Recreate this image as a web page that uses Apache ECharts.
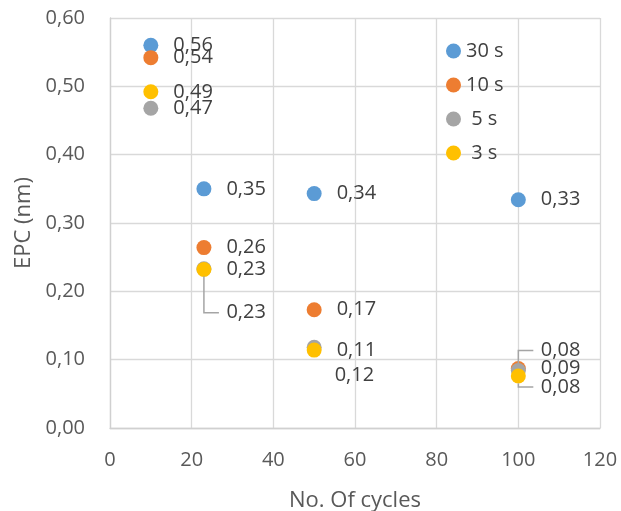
<!DOCTYPE html>
<html><head><meta charset="utf-8">
<script src="https://cdn.jsdelivr.net/npm/echarts@6/dist/echarts.min.js"></script>
<style>html,body{margin:0;padding:0;background:#fff}#c{width:621px;height:511px}</style>
</head><body><div id="c"></div>
<script>
var cycles = [10, 23, 50, 100];
var s30 = [0.56, 0.35, 0.343, 0.334];
var s10 = [0.542, 0.264, 0.173, 0.087];
var s5  = [0.468, 0.233, 0.118, 0.084];
var s3  = [0.492, 0.232, 0.114, 0.076];
var seriesNames = ['30 s', '10 s', '5 s', '3 s'];
var seriesValues = [s30, s10, s5, s3];
var colors = ['#5B9BD5', '#ED7D31', '#A5A5A5', '#FFC000'];

// label displacement (styling only): key "series-index" -> [dx, dy, leader]
var labelShift = {
  '2-1': [0, 44, true],
  '2-2': [-2, 28, false],
  '2-3': [0, -20, true],
  '3-3': [0, 11, true]
};

var fmt = function (v) { return v.toFixed(2).replace('.', ','); };
var FONT = 'Open Sans';
var LEADER = '#A5A5A5';
var SYM = 15;

var series = seriesNames.map(function (name, si) {
  return {
    name: name,
    type: 'scatter',
    symbolSize: SYM,
    itemStyle: { color: colors[si], opacity: 1 },
    data: cycles.map(function (c, di) { return [c, seriesValues[si][di]]; }),
    label: {
      show: true, position: 'right', distance: 15,
      color: '#404040', fontSize: 20, fontFamily: FONT,
      formatter: function (p) { return fmt(p.value[1]); }
    },
    labelLayout: function (p) {
      var sh = labelShift[p.seriesIndex + '-' + p.dataIndex];
      return sh ? { dx: sh[0], dy: sh[1] } : {};
    },
    emphasis: { disabled: true }
  };
});

var option = {
  animation: false,
  grid: { left: 110, right: 21, top: 18, bottom: 83, outerBoundsMode: 'none', containLabel: false },
  legend: {
    orient: 'vertical', left: 441, top: 36, itemGap: 14,
    itemWidth: 15, itemHeight: 15, icon: 'circle',
    data: seriesNames,
    formatter: function (n) { return n.length < 4 ? ' ' + n : n; },
    textStyle: { color: '#404040', fontSize: 20, lineHeight: 20, fontFamily: FONT }
  },
  xAxis: {
    type: 'value', min: 0, max: 120, interval: 20,
    name: 'No. Of cycles', nameLocation: 'middle', nameGap: 62,
    nameTextStyle: { color: '#595959', fontSize: 22, fontFamily: FONT },
    axisLine: { show: true, lineStyle: { color: '#D0D0D0', width: 1.3 } },
    axisTick: { show: false },
    axisLabel: { color: '#595959', fontSize: 20, fontFamily: FONT, margin: 22 },
    splitLine: { show: true, lineStyle: { color: '#D9D9D9', width: 1.3 } }
  },
  yAxis: {
    type: 'value', min: 0, max: 0.6, interval: 0.1,
    name: 'EPC (nm)', nameLocation: 'middle', nameGap: 74, nameRotate: 90,
    nameTextStyle: { color: '#595959', fontSize: 22, fontFamily: FONT },
    axisLine: { show: true, lineStyle: { color: '#D0D0D0', width: 1.3 } },
    axisTick: { show: false },
    axisLabel: { color: '#595959', fontSize: 20, fontFamily: FONT, margin: 25, formatter: function (v) { return fmt(v); } },
    splitLine: { show: true, lineStyle: { color: '#D9D9D9', width: 1.3 } }
  },
  series: series
};

var chart = echarts.init(document.getElementById('c'), null, { renderer: 'canvas' });
chart.setOption(option);

// elbow leader lines (Excel style) from the point to its displaced label
var leaders = [];
Object.keys(labelShift).forEach(function (key) {
  var sh = labelShift[key];
  if (!sh[2]) return;
  var parts = key.split('-');
  var si = +parts[0], di = +parts[1];
  var p = chart.convertToPixel({ seriesIndex: si }, [cycles[di], seriesValues[si][di]]);
  var startY = sh[1] > 0 ? p[1] + SYM / 2 : p[1] - SYM / 2;
  var ly = p[1] + sh[1];
  leaders.push({
    type: 'polyline', silent: true, z: 10,
    shape: { points: [[p[0], startY], [p[0], ly], [p[0] + 15, ly]] },
    style: { stroke: LEADER, lineWidth: 1.5, fill: null }
  });
});
chart.setOption({ graphic: leaders });
</script></body></html>
